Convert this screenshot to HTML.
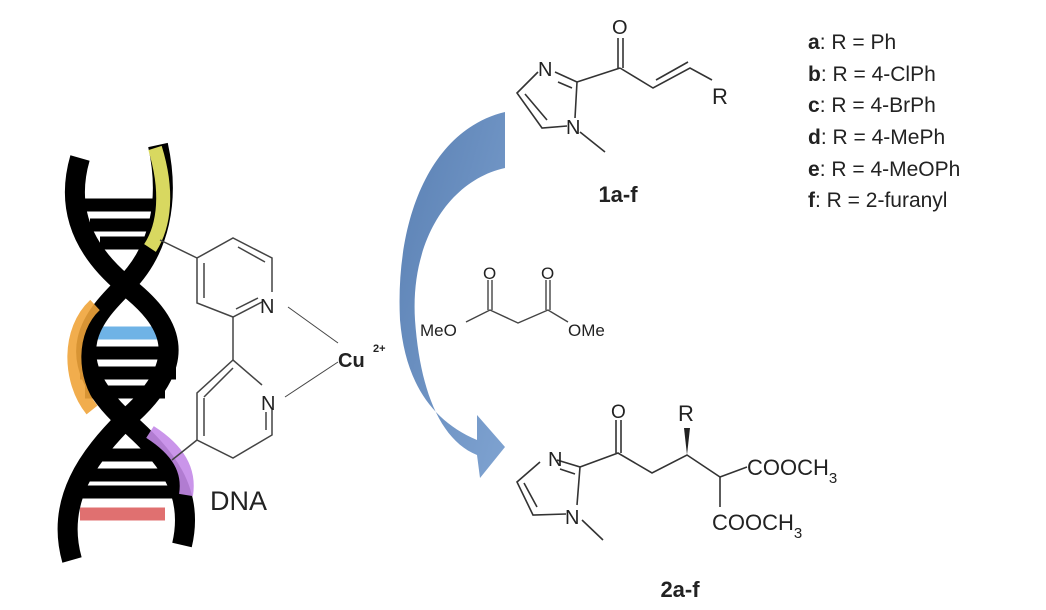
<!DOCTYPE html>
<html><head><meta charset="utf-8"><style>
html,body{margin:0;padding:0;background:#fff;}
svg{display:block;}
text{font-family:"Liberation Sans",Arial,sans-serif;fill:#222;}
</style></head><body>
<svg width="1046" height="610" viewBox="0 0 1046 610" xmlns="http://www.w3.org/2000/svg">
<defs>
<linearGradient id="ag" x1="0" y1="0" x2="1" y2="1">
<stop offset="0" stop-color="#5a80b3"/><stop offset="1" stop-color="#7fa3d1"/>
</linearGradient>
</defs>
<!-- DNA rungs -->
<g stroke="#000" stroke-width="13" fill="none">
<line x1="82" y1="205" x2="160" y2="205"/>
<line x1="90" y1="225" x2="160" y2="225"/>
<line x1="100" y1="243" x2="150" y2="243"/>
<line x1="85" y1="333" x2="172" y2="333" stroke="#6fb3e6"/>
<line x1="80" y1="353" x2="176" y2="353"/>
<line x1="80" y1="373" x2="176" y2="373"/>
<line x1="85" y1="392" x2="165" y2="392"/>
<line x1="90" y1="455" x2="160" y2="455"/>
<line x1="82" y1="475" x2="170" y2="475"/>
<line x1="80" y1="492" x2="175" y2="492"/>
<line x1="80" y1="514" x2="165" y2="514" stroke="#e07070"/>
</g>
<!-- DNA strands -->
<g stroke="#000" stroke-width="20" fill="none" stroke-linecap="butt">
<path d="M80,158 C62,220 95,260 125,285 C170,320 195,360 125,420 C90,455 55,500 72,560"/>
<path d="M158,145 C170,200 160,250 125,285 C95,315 55,355 125,420 C165,455 195,490 182,545"/>
</g>
<g fill="none" stroke-width="14" opacity="0.9">
<path d="M155,148 C168,190 165,225 150,248" stroke="#f0ef6a"/>
<path d="M95,305 C68,330 68,380 92,410" stroke="#f0a53a"/>
<path d="M150,432 C178,450 190,470 186,495" stroke="#c48ae8"/>
</g>
<text x="210" y="510" font-size="27">DNA</text>
<!-- bipyridine -->
<g stroke="#444" stroke-width="1.5" fill="none">
<path d="M262,302 L233,317 L197,303 L197,258 L233,238 L272,258 L272,292"/>
<path d="M238,247 L265,262 M204,263 L204,298 M236,309 L258,298"/>
<line x1="233" y1="317" x2="233" y2="360"/>
<path d="M262,385 L233,360 L197,393 L197,440 L233,458 L272,435 L272,410"/>
<path d="M233,368 L204,397 M204,398 L204,436 M266,412 L266,430"/>
<line x1="197" y1="258" x2="160" y2="240"/>
<line x1="197" y1="440" x2="172" y2="460"/>
<line x1="288" y1="307" x2="338" y2="343" stroke-width="1"/>
<line x1="285" y1="397" x2="338" y2="362" stroke-width="1"/>
</g>
<text x="260" y="313" font-size="20">N</text>
<text x="261" y="410" font-size="20">N</text>
<text x="338" y="367" font-size="20" font-weight="bold">Cu</text>
<text x="373" y="352" font-size="11" font-weight="bold">2+</text>
<!-- arrow -->
<path d="M505,112 C430,130 395,220 400,320 C405,380 430,420 477,440 L477,415 L505,447 L480,478 L477,455 C440,440 420,390 415,320 C410,240 450,180 505,168 Z" fill="url(#ag)"/>
<!-- substrate 1 -->
<g stroke="#333" stroke-width="1.6" fill="none">
<path d="M555,72 L577,82 L575,118 M567,126 L542,128 L517,93 L538,72"/>
<path d="M558,82 L572,88 M547,120 L525,94"/>
<line x1="580" y1="132" x2="605" y2="152"/>
<line x1="577" y1="82" x2="620" y2="68"/>
<line x1="618" y1="38" x2="618" y2="68"/><line x1="623" y1="38" x2="623" y2="68"/>
<path d="M620,68 L653,88 L690,68 L712,80"/>
<line x1="656" y1="80" x2="688" y2="62"/>
</g>
<text x="538" y="76" font-size="20">N</text>
<text x="566" y="134" font-size="20">N</text>
<text x="612" y="34" font-size="20">O</text>
<text x="712" y="104" font-size="22">R</text>
<text x="618" y="202" font-size="22" font-weight="bold" text-anchor="middle">1a-f</text>
<!-- malonate -->
<g stroke="#444" stroke-width="1.4" fill="none">
<path d="M466,322 L490,310 L518,323 L548,310 L568,322"/>
<line x1="488" y1="280" x2="488" y2="310"/><line x1="492" y1="280" x2="492" y2="310"/>
<line x1="546" y1="280" x2="546" y2="310"/><line x1="550" y1="280" x2="550" y2="310"/>
</g>
<text x="420" y="336" font-size="17">MeO</text>
<text x="568" y="336" font-size="17">OMe</text>
<text x="483" y="279" font-size="17">O</text>
<text x="541" y="279" font-size="17">O</text>
<!-- product -->
<g stroke="#333" stroke-width="1.6" fill="none">
<path d="M557,460 L580,467 L577,505 M566,514 L533,515 L517,482 L540,462"/>
<path d="M560,469 L575,474 M537,507 L524,483"/>
<line x1="582" y1="520" x2="603" y2="540"/>
<path d="M580,467 L618,453 L652,473 L687,455 L720,477 L747,467"/>
<line x1="616" y1="420" x2="616" y2="453"/><line x1="621" y1="420" x2="621" y2="453"/>
<line x1="720" y1="477" x2="720" y2="507"/>
</g>
<path d="M687,455 L684,428 L690,428 Z" fill="#222"/>
<text x="548" y="466" font-size="20">N</text>
<text x="565" y="524" font-size="20">N</text>
<text x="611" y="418" font-size="19">O</text>
<text x="678" y="421" font-size="22">R</text>
<text x="747" y="475" font-size="22">COOCH<tspan font-size="15" dy="8">3</tspan></text>
<text x="712" y="530" font-size="22">COOCH<tspan font-size="15" dy="8">3</tspan></text>
<text x="680" y="597" font-size="22" font-weight="bold" text-anchor="middle">2a-f</text>
<!-- legend -->
<g font-size="21">
<text x="808" y="49"><tspan font-weight="bold">a</tspan>: R = Ph</text>
<text x="808" y="81"><tspan font-weight="bold">b</tspan>: R = 4-ClPh</text>
<text x="808" y="112"><tspan font-weight="bold">c</tspan>: R = 4-BrPh</text>
<text x="808" y="144"><tspan font-weight="bold">d</tspan>: R = 4-MePh</text>
<text x="808" y="176"><tspan font-weight="bold">e</tspan>: R = 4-MeOPh</text>
<text x="808" y="207"><tspan font-weight="bold">f</tspan>: R = 2-furanyl</text>
</g>
</svg>
</body></html>
